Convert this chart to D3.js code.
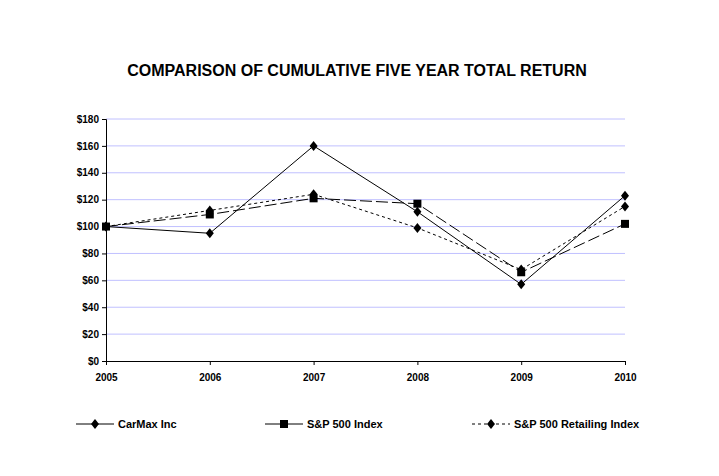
<!DOCTYPE html><html><head><script src="https://cdn.jsdelivr.net/npm/d3@7"></script>
<style>body{margin:0;background:#fff}text{font-family:Arial,"Liberation Sans",sans-serif;font-weight:bold}</style></head><body>
<svg id="c" width="719" height="476"></svg>
<script>
const years=["2005","2006","2007","2008","2009","2010"];
const carmax=[100,95,160,111,57,123];
const sp500=[100,109,121,117,66,102];
const retail=[100,112,124,99,68,115];
const yTicks=[0,20,40,60,80,100,120,140,160,180];
const svg=d3.select("#c");
const x=d3.scalePoint().domain(years).range([106,625]);
const y=d3.scaleLinear().domain([0,180]).range([361,119]);
svg.append("text").attr("x",357).attr("y",76).attr("text-anchor","middle").attr("font-size",16).text("COMPARISON OF CUMULATIVE FIVE YEAR TOTAL RETURN");
svg.append("g").selectAll("line").data(yTicks.slice(1)).join("line").attr("x1",106).attr("x2",625).attr("y1",d=>y(d)).attr("y2",d=>y(d)).attr("stroke","#c0c0ff");
const ya=svg.append("g").attr("transform","translate(106,0)").call(d3.axisLeft(y).tickValues(yTicks).tickSize(4).tickFormat(d=>"$"+d));
const xa=svg.append("g").attr("transform","translate(0,361)").call(d3.axisBottom(x).tickSize(4));
[ya,xa].forEach(a=>{a.select(".domain").attr("stroke","#000");a.selectAll("text").attr("font-size",10).attr("font-family","Arial").attr("font-weight","bold").attr("fill","#000");});
xa.selectAll("text").attr("dy","1.3em");
const series=[{n:"CarMax Inc",v:carmax,dash:null,m:"d",lx:76},{n:"S&P 500 Index",v:sp500,dash:"12,4",m:"s",lx:265},{n:"S&P 500 Retailing Index",v:retail,dash:"3,3",m:"d",lx:472}];
const line=d3.line().x((d,i)=>x(years[i])).y(d=>y(d));
function marker(g,t,cx,cy){if(t==="s")g.append("rect").attr("x",cx-4).attr("y",cy-4).attr("width",8).attr("height",8);else g.append("path").attr("d",`M${cx},${cy-5}L${cx+4},${cy}L${cx},${cy+5}L${cx-4},${cy}Z`);}
series.forEach(s=>{
 svg.append("path").attr("d",line(s.v)).attr("fill","none").attr("stroke","#000").attr("stroke-width",1).attr("stroke-dasharray",s.dash);
 const g=svg.append("g");s.v.forEach((d,i)=>marker(g,s.m,x(years[i]),y(d)));
 const lg=svg.append("g");
 lg.append("line").attr("x1",s.lx).attr("x2",s.lx+38).attr("y1",424).attr("y2",424).attr("stroke","#000").attr("stroke-dasharray",s.dash==="3,3"?"3,3":null);
 marker(lg,s.m,s.lx+19,424);
 lg.append("text").attr("x",s.lx+42).attr("y",428).attr("font-size",11).text(s.n);
});
</script></body></html>
